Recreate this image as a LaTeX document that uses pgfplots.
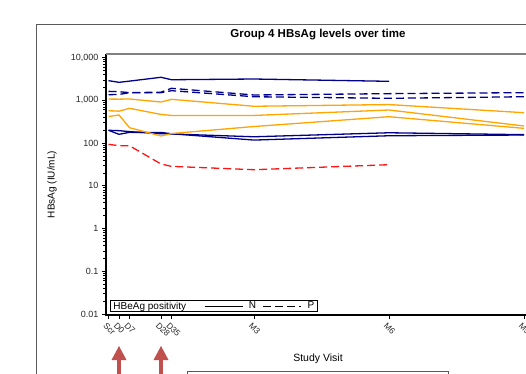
\documentclass[border=0pt]{standalone}
\usepackage{pgfplots}
\pgfplotsset{compat=1.18}
\usepackage{fontspec}
\setmainfont{Liberation Sans}
\definecolor{navyc}{RGB}{0,0,140}
\definecolor{orangec}{RGB}{255,165,0}
\definecolor{redc}{RGB}{255,20,20}
\definecolor{arrowc}{RGB}{192,80,77}
\definecolor{framec}{RGB}{90,90,90}
\begin{document}
\begin{tikzpicture}[x=1pt,y=1pt]
\path[use as bounding box] (0,0) rectangle (526,373);
\begin{scope}
\clip (0,0) rectangle (526,373);
\draw[framec, line width=1pt] (36,348) rectangle (600,-20);
\draw[framec, line width=0.8pt] (187,2) rectangle (448,-20);
\begin{axis}[
  at={(106pt,58pt)}, anchor=south west,
  scale only axis, width=424pt, height=261pt,
  xmin=-8.67, xmax=274,
  ymode=log, ymin=0.0095, ymax=12200,
  xtick={-7,0,7,28,35,90,180,270},
  xticklabels={Scr,D0,D7,D28,D35,M3,M6,M9},
  ytick={0.01,0.1,1,10,100,1000,10000},
  yticklabels={0.01,0.1,1,10,100,{1,000},{10,000}},
  minor ytick={},
  tick pos=left, tick align=outside, major tick length=4pt,
  tick style={black, line width=0.8pt},
  axis line style={draw=none},
  xticklabel style={rotate=-45, anchor=north west, font=\fontsize{8.5}{9}\selectfont, inner sep=1pt, text=black!85, yshift=-2pt},
  yticklabel style={font=\fontsize{9}{10}\selectfont, text=black!85},
  title={Group 4 HBsAg levels over time},
  title style={font=\bfseries\fontsize{11.5}{13}\selectfont, at={(axis description cs:0.5,1.05)}, anchor=center},
  xlabel={Study Visit},
  xlabel style={font=\fontsize{10.5}{12}\selectfont, at={(axis description cs:0.5,-0.167)}, anchor=center},
  ylabel={HBsAg (IU/mL)},
  ylabel style={font=\fontsize{10}{12}\selectfont, at={(axis description cs:-0.1274,0.5)}, anchor=center},
  legend columns=3,
  legend style={at={(axis description cs:0.0094,0.0115)}, anchor=south west, draw=black, line width=0.9pt,
    font=\fontsize{10}{11}\selectfont, inner xsep=2pt, inner ysep=0pt,
    nodes={inner sep=1pt},
    /tikz/column 2/.append style={column sep=17pt},
    /tikz/column 3/.append style={column sep=5pt},
    /tikz/column 4/.append style={column sep=6pt},
    /tikz/column 5/.append style={column sep=5pt}},
  every axis plot/.append style={line width=1.3pt},
  after end axis/.code={
    \draw[black, line width=1.2pt] (rel axis cs:0,1) -- (rel axis cs:0,0) -- (rel axis cs:1,0);
    \draw[gray, line width=1.5pt] (rel axis cs:0,1) -- (rel axis cs:1,1);
  },
]
% HBeAg negative (solid)
\addplot[navyc, forget plot] coordinates {(-7,2900)(0,2650)(7,2830)(28,3480)(35,3050)(90,3170)(180,2800)};
\addplot[navyc, forget plot] coordinates {(-7,200)(0,161)(7,179)(28,178)(35,166)(90,118)(180,149)(270,155)};
\addplot[navyc, forget plot] coordinates {(-7,200)(0,196)(7,186)(28,166)(35,164)(90,141)(180,175)(270,158)};
\addplot[orangec, forget plot] coordinates {(-7,1075)(0,1070)(7,1080)(28,918)(35,1060)(90,730)(180,800)(270,516)};
\addplot[orangec, forget plot] coordinates {(-7,575)(0,560)(7,653)(28,470)(35,445)(90,445)(180,597)(270,252)};
\addplot[orangec, forget plot] coordinates {(-7,420)(0,456)(7,230)(28,147)(35,168)(90,245)(180,416)(270,222)};
% HBeAg positive (dashed)
\addplot[navyc, dash pattern=on 8pt off 4pt, forget plot] coordinates {(-7,1630)(0,1600)(7,1520)(28,1560)(35,1920)(90,1340)(180,1440)(270,1520)};
\addplot[navyc, dash pattern=on 8pt off 4pt, forget plot] coordinates {(-7,1360)(0,1380)(7,1520)(28,1520)(35,1690)(90,1220)(180,1120)(270,1220)};
\addplot[redc, dash pattern=on 8pt off 4pt, forget plot] coordinates {(-7,94)(0,87)(7,87)(28,32.5)(35,28.6)(90,23.9)(180,31.3)};
\addlegendimage{empty legend}
\addlegendentry{HBeAg positivity}
\addlegendimage{legend image code/.code={\draw[black,line width=0.6pt] (0pt,0pt)--(38pt,0pt);}}
\addlegendentry{N}
\addlegendimage{legend image code/.code={\draw[black,line width=0.6pt,dash pattern=on 8pt off 4pt] (0pt,0pt)--(38pt,0pt);}}
\addlegendentry{P}
\end{axis}
% dosing arrows
\foreach \ax in {119,161}{
  \fill[arrowc] (\ax-1.7,-5) rectangle (\ax+1.7,14);
  \fill[arrowc] (\ax-7.5,13) -- (\ax+7.5,13) -- (\ax,27) -- cycle;
}
\end{scope}
\end{tikzpicture}
\end{document}
